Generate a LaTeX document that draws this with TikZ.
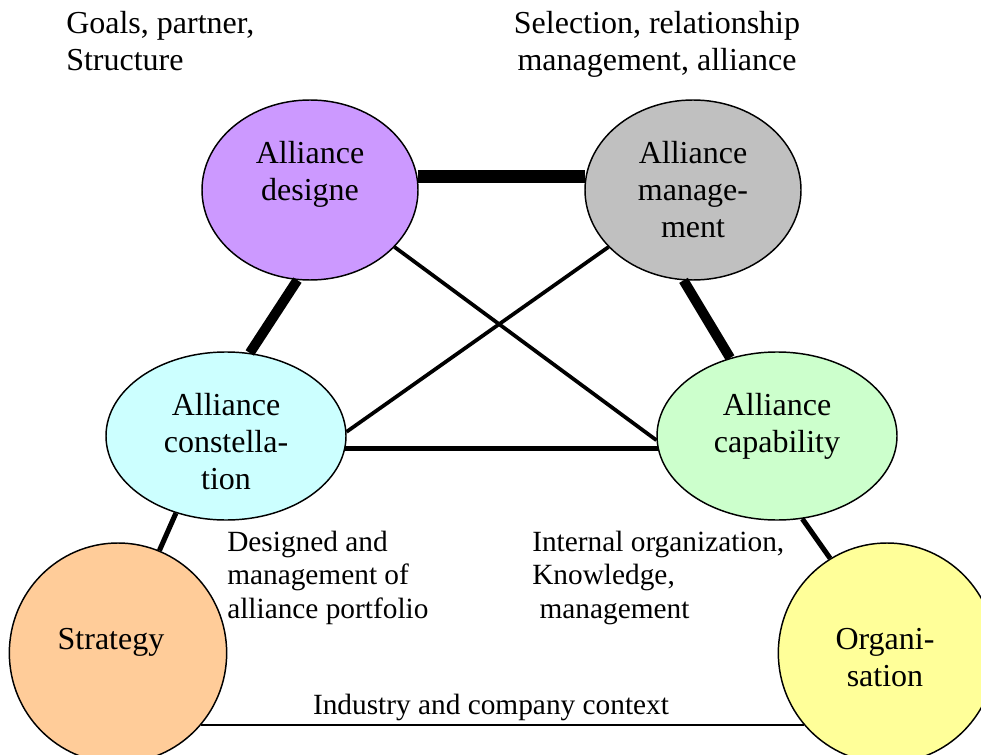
\documentclass[tikz,border=0pt]{standalone}
\usepackage{fontspec}
\setmainfont{Liberation Serif}
\usetikzlibrary{shapes.geometric}

\definecolor{lilac}{HTML}{CC99FF}
\definecolor{silver}{HTML}{C0C0C0}
\definecolor{aqua}{HTML}{CCFFFF}
\definecolor{mint}{HTML}{CCFFCC}
\definecolor{peach}{HTML}{FFCC99}
\definecolor{lemon}{HTML}{FFFF99}

\begin{document}
\begin{tikzpicture}[x=0.75pt, y=-0.75pt,
    blob/.style={ellipse, draw, line width=1.1pt, inner sep=0pt},
    bigtext/.style={anchor=north, align=center, inner sep=0pt, font=\fontsize{24}{27.6}\selectfont},
    smalltext/.style={inner sep=0pt, align=left, font=\fontsize{22}{25}\selectfont},
    bigline/.style={line width=10pt},
    diagline/.style={line width=7.5pt},
    midline/.style={line width=3.8pt},
    crossline/.style={line width=2.8pt},
    ctxline/.style={line width=1.5pt}]
    \useasboundingbox (0,0) rectangle (981,755);

    % Ellipses
    \node[blob, fill=lilac, minimum width=162pt, minimum height=135pt] (designe) at (310,190) {};
    \node[blob, fill=silver, minimum width=162pt, minimum height=135pt] (manage) at (693,190) {};
    \node[blob, fill=aqua, minimum width=180pt, minimum height=126pt] (constel) at (226,436) {};
    \node[blob, fill=mint, minimum width=180pt, minimum height=126pt] (capab) at (777,436) {};
    \node[blob, fill=peach, minimum width=163pt, minimum height=165pt] (strategy) at (118,653) {};
    \node[blob, fill=lemon, minimum width=163pt, minimum height=165pt] (organ) at (887,653) {};

    % Ellipse labels
    \node[bigtext] (designe-txt) at (310,141) {Alliance\\designe};
    \node[bigtext] (manage-txt) at (693,141) {Alliance\\manage-\\ment};
    \node[bigtext] (constel-txt) at (226,393) {Alliance\\constella-\\tion};
    \node[bigtext] (capab-txt) at (777,393) {Alliance\\capability};
    \node[bigtext] (strategy-txt) at (111,628) {Strategy};
    \node[bigtext] (organ-txt) at (885,628) {Organi-\\sation};

    % Thick links
    \draw[bigline] (designe.7) -- (manage.173);
    \draw[diagline] (designe.262) -- (constel.74);
    \draw[diagline] (manage.264) -- (capab.121);

    % Cross links
    \foreach \a/\b in {designe.326/capab.182, manage.214/constel.2} {
        \draw[crossline] (\a) -- (\b);
    }
    \draw[midline] (constel.354) -- (capab.186);

    % Outer links
    \draw[midline] (constel.237) -- (strategy.68);
    \draw[midline] (capab.287) -- (organ.121);
    \draw[ctxline] (strategy.319) -- (organ.221);

    % Notes
    \node[bigtext, anchor=north west, align=left] (goals) at (66,11) {Goals, partner,\\Structure};
    \node[bigtext] (selection) at (657,11) {Selection, relationship\\management, alliance};
    \node[smalltext, anchor=north west] (portfolio) at (227,531) {Designed and\\management of\\alliance portfolio};
    \node[smalltext, anchor=north west] (internal) at (532,531) {Internal organization,\\Knowledge,\\\ management};
    \node[smalltext, anchor=north] (context) at (491,694) {Industry and company context};
\end{tikzpicture}
\end{document}
